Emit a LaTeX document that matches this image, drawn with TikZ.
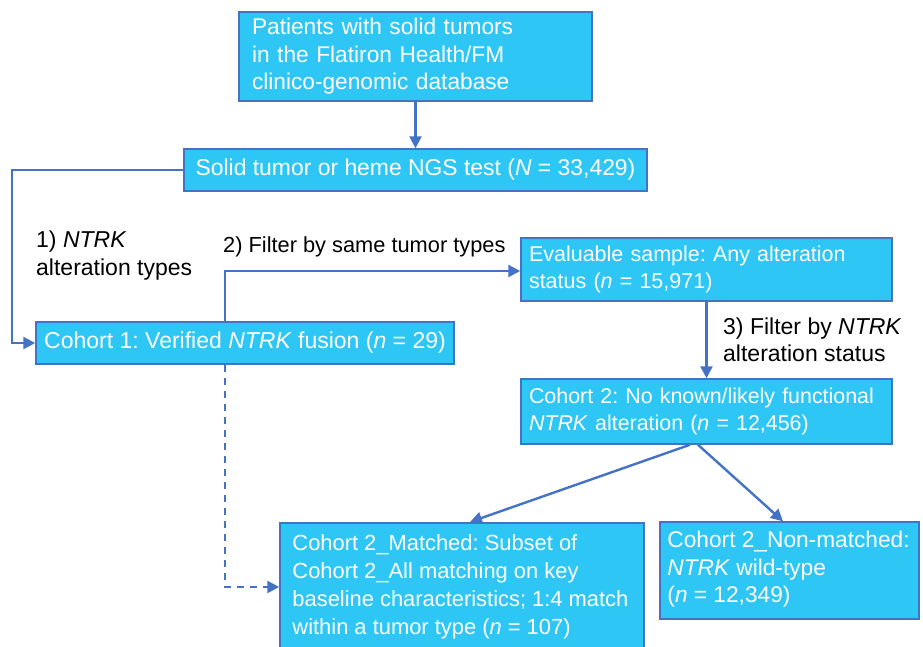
\documentclass[tikz,border=0pt]{standalone}
\usepackage{fontspec}
\setmainfont{Liberation Sans}
\usetikzlibrary{arrows.meta,calc}
\definecolor{boxfill}{RGB}{46,198,244}
\definecolor{boxline}{RGB}{68,114,196}
\definecolor{arrowc}{RGB}{68,114,196}
\newcommand{\fsz}[1]{\fontsize{#1}{27.5}\selectfont}
\tikzset{
  flowbox/.style={draw=boxline, line width=1.5pt, fill=boxfill, text=white,
    inner xsep=0pt, inner ysep=0pt, align=left},
  conn/.style={draw=arrowc, line width=2.4pt, -{Triangle[length=12pt,width=12pt]}},
  dconn/.style={conn, dash pattern=on 7pt off 6pt},
  lbl/.style={text=black, align=left, inner sep=0pt},
  intext/.style={text=white, align=left, inner sep=0pt}
}
\begin{document}
\frenchspacing
\begin{tikzpicture}[x=1pt,y=-1pt]
\useasboundingbox (0,0) rectangle (923,646);
\clip (0,0) rectangle (923,646);
% boxes
\node[flowbox, minimum width=353pt, minimum height=89pt, text width=327pt, font=\fsz{22.7}] (A) at (415.5,56.5)
  {Patients with solid tumors\\in the Flatiron Health/FM\\clinico-genomic database};
\node[flowbox, minimum width=463pt, minimum height=42pt, font=\fsz{22.9}] (B) at (415.5,170)
  {Solid tumor or heme NGS test (\textit{N} = 33,429)};
\node[flowbox, minimum width=418pt, minimum height=42pt, font=\fsz{23}] (C) at (245,343)
  {Cohort 1: Verified \textit{NTRK} fusion (\textit{n} = 29)};
\node[flowbox, minimum width=371pt, minimum height=63pt, text width=355pt, font=\fsz{21.5}] (D) at (706.5,269.5)
  {Evaluable sample: Any alteration\\status (\textit{n} = 15,971)};
\node[flowbox, minimum width=371pt, minimum height=65pt, text width=355pt, font=\fsz{21.4}] (E) at (706.5,411.5)
  {Cohort 2: No known/likely functional\\\textit{NTRK} alteration (\textit{n} = 12,456)};
\node[flowbox, minimum width=364pt, minimum height=140pt, anchor=north] (F) at (462,522) {};
\node[intext, anchor=north west, font=\fontsize{21.9}{28}\selectfont] (Ft) at ($(F.north west)+(13,12)$)
  {Cohort 2\_Matched: Subset of\\Cohort 2\_All matching on key\\baseline characteristics; 1:4 match\\within a tumor type (\textit{n} = 107)};
\node[flowbox, minimum width=259pt, minimum height=97pt] (G) at (789.5,570.5) {};
\node[intext, anchor=west, font=\fontsize{22.7}{27.5}\selectfont] (Gt) at ($(G.west)+(8,-1)$)
  {Cohort 2\_Non-matched:\\\textit{NTRK} wild-type\\(\textit{n} = 12,349)};
% labels
\node[lbl, anchor=west, font=\fontsize{23}{28}\selectfont] (L1) at (36,256) {1) \textit{NTRK}\\alteration types};
\node[lbl, anchor=west, font=\fsz{21.8}] (L2) at (223,247) {2) Filter by same tumor types};
\node[lbl, anchor=west, font=\fontsize{23}{27}\selectfont] (L3) at (723,339.5) {3) Filter by \textit{NTRK}\\alteration status};
% coordinates
\coordinate (eL) at ($(E.south)+(-16.5,0)$);
\coordinate (eR) at ($(E.south)+(-8.5,0)$);
\coordinate (fN) at ($(F.north)+(8,0)$);
\coordinate (gN) at ($(G.north)+(-6.5,0)$);
\coordinate (cTop) at (225,343);
\coordinate (bend1) at (12,170);
\coordinate (fW) at ($(F.north west)+(0,65)$);
% connectors
\draw[conn] (A) -- (B);
\draw[conn] (B.west) -- (bend1) |- (C.west);
\draw[conn] (cTop |- C.north) |- ($(D.west)+(0,1.5)$);
\draw[conn] (D) -- (E);
\draw[conn] (eL) -- (fN);
\draw[conn] (eR) -- (gN);
\draw[dconn] (cTop |- C.south) |- (fW);
\end{tikzpicture}
\end{document}
